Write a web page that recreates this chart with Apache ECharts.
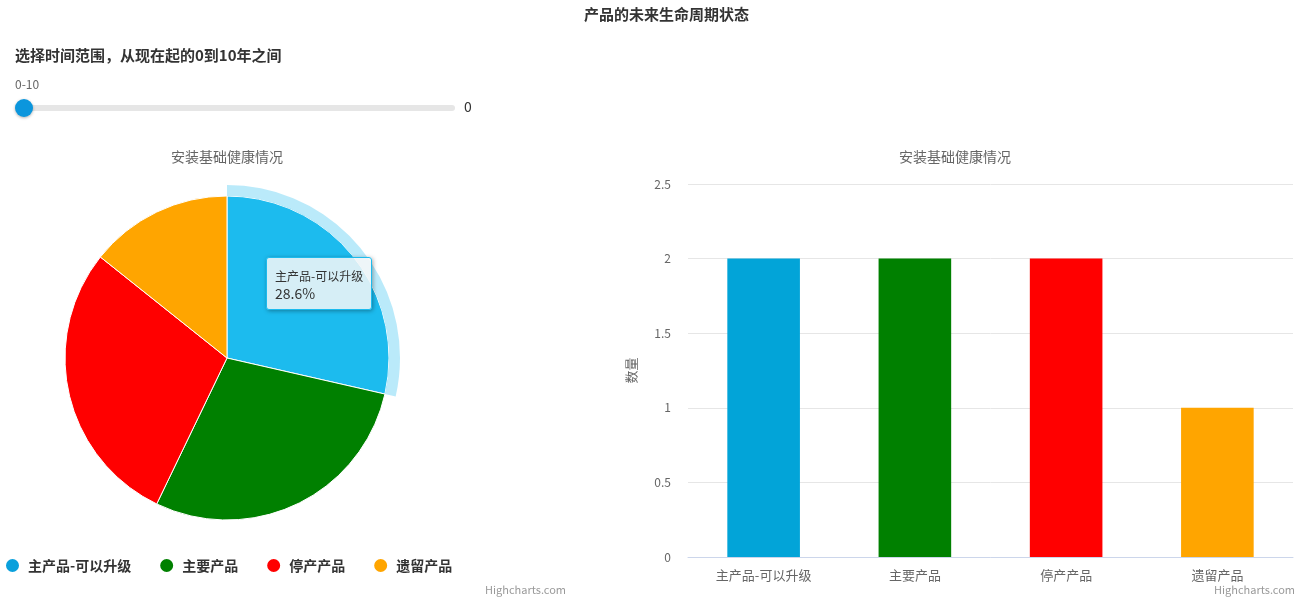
<!DOCTYPE html>
<html><head><meta charset="utf-8">
<script src="https://cdn.jsdelivr.net/npm/echarts@6/dist/echarts.min.js"></script>
<style>html,body{margin:0;padding:0;background:#fff;}#c{width:1300px;height:600px;}</style>
</head><body><div id="c"></div>
<script>
const categories = ['主产品-可以升级', '主要产品', '停产产品', '遗留产品'];
const counts = [2, 2, 2, 1];
const pieColors = ['#1cbbee', '#008000', '#ff0000', '#ffa500'];
const barColors = ['#02a4d8', '#008000', '#ff0000', '#ffa500'];
const legendColors = ['#0aa0dc', '#008000', '#ff0000', '#ffa500'];
const yMin = 0, yMax = 2.5, yStep = 0.5;
const sliderLabel = '0-10';
const sliderValue = '0';

const FONT = '"Noto Sans CJK SC", "Noto Sans", sans-serif';
const total = counts.reduce((a, b) => a + b, 0);
const chart = echarts.init(document.getElementById('c'), null, {renderer: 'canvas'});

const option = {
  animation: false,
  textStyle: {fontFamily: FONT},
  title: [
    {text: '产品的未来生命周期状态', left: 579, top: 2, textStyle: {fontSize: 15, fontWeight: 'bold', color: '#333', fontFamily: FONT}},
    {text: '安装基础健康情况', left: 166, top: 145, textStyle: {fontSize: 14, fontWeight: 'normal', color: '#666', fontFamily: FONT}},
    {text: '安装基础健康情况', left: 894, top: 145, textStyle: {fontSize: 14, fontWeight: 'normal', color: '#666', fontFamily: FONT}}
  ],
  tooltip: {
    trigger: 'item',
    alwaysShowContent: true,
    triggerOn: 'none',
    transitionDuration: 0,
    position: [266, 257],
    backgroundColor: 'rgba(247,247,247,0.85)',
    borderColor: '#1cbbee',
    borderWidth: 1,
    padding: [9, 8, 7, 8],
    extraCssText: 'border-radius:3px;box-shadow:1px 1px 4px rgba(0,0,0,0.35);width:88px;',
    formatter: p => '<div style="font-size:12px;color:#333;line-height:17px;font-family:' + FONT.replace(/"/g, "'") + '">' + p.name + '</div>' +
      '<div style="font-size:14px;color:#333;line-height:18px;font-family:' + FONT.replace(/"/g, "'") + '">' + (p.value / total * 100).toFixed(1) + '%</div>'
  },
  legend: {
    left: 4, top: 557, padding: 0,
    icon: 'circle', itemWidth: 15, itemHeight: 15, itemGap: 27,
    selectedMode: false,
    textStyle: {fontSize: 14, fontWeight: 'bold', color: '#333', padding: [0, 0, 0, 3], fontFamily: FONT},
    data: categories.map((c, i) => ({name: c, itemStyle: {color: legendColors[i]}}))
  },
  grid: {left: 688, right: 7, top: 184, bottom: 43},
  xAxis: {
    type: 'category', data: categories,
    axisLine: {lineStyle: {color: '#ccd6eb'}},
    axisTick: {length: 10, lineStyle: {color: '#ccd6eb'}},
    axisLabel: {fontSize: 13, color: '#666', margin: 12, fontFamily: FONT}
  },
  yAxis: {
    type: 'value', min: yMin, max: yMax, interval: yStep,
    name: '数量', nameLocation: 'middle', nameGap: 50,
    nameTextStyle: {fontSize: 13, color: '#666', fontFamily: FONT},
    axisLine: {show: false}, axisTick: {show: false},
    axisLabel: {fontSize: 12, color: '#666', margin: 17, fontFamily: FONT},
    splitLine: {lineStyle: {color: '#e6e6e6'}}
  },
  series: [
    {
      type: 'pie', name: 'pie', center: [227, 358], radius: [0, 162],
      startAngle: 90, clockwise: true,
      label: {show: false}, labelLine: {show: false},
      emphasis: {disabled: true},
      itemStyle: {borderColor: '#fff', borderWidth: 1},
      data: categories.map((c, i) => ({name: c, value: counts[i], itemStyle: {color: pieColors[i]}}))
    },
    {
      type: 'pie', name: 'halo', center: [227, 358], radius: [162, 173],
      startAngle: 90, clockwise: true, silent: true,
      label: {show: false}, labelLine: {show: false},
      tooltip: {show: false},
      itemStyle: {borderWidth: 0},
      data: categories.map((c, i) => ({name: c, value: counts[i], itemStyle: {color: i === 0 ? 'rgba(28,187,238,0.3)' : 'rgba(0,0,0,0)'}}))
    },
    {
      type: 'bar', name: 'bar', barWidth: '48%',
      tooltip: {show: false},
      data: counts.map((v, i) => ({value: v, itemStyle: {color: barColors[i]}}))
    }
  ],
  graphic: [
    {type: 'text', left: 15, top: 48, style: {text: '选择时间范围，从现在起的0到10年之间', font: 'bold 15px ' + FONT, fill: '#333'}},
    {type: 'text', left: 15, top: 78, style: {text: sliderLabel, font: '12px ' + FONT, fill: '#666'}},
    {type: 'rect', shape: {x: 24, y: 105, width: 431, height: 6, r: 3}, style: {fill: '#e6e6e6'}},
    {type: 'circle', shape: {cx: 24, cy: 108, r: 9}, style: {fill: '#0b96dd', shadowBlur: 3, shadowColor: 'rgba(0,0,0,0.3)', shadowOffsetY: 1}},
    {type: 'text', left: 464, top: 100, style: {text: sliderValue, font: '14px ' + FONT, fill: '#333'}},
    {type: 'text', right: 1300 - 566, top: 584, style: {text: 'Highcharts.com', font: '11px ' + FONT, fill: '#999'}},
    {type: 'text', right: 5, top: 584, style: {text: 'Highcharts.com', font: '11px ' + FONT, fill: '#999'}}
  ]
};
chart.setOption(option);
chart.dispatchAction({type: 'showTip', seriesIndex: 0, dataIndex: 0});
</script></body></html>
